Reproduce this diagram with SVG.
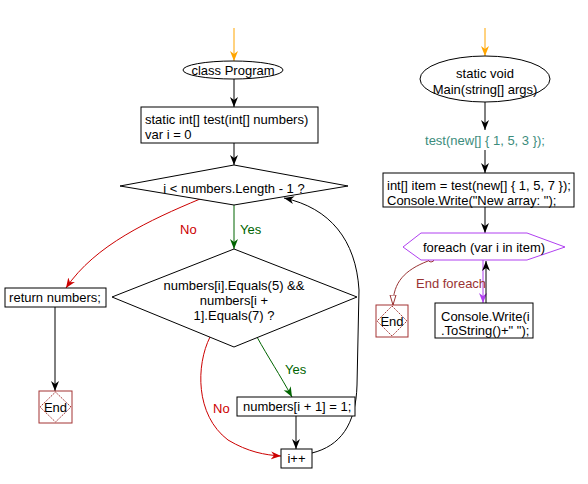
<svg xmlns="http://www.w3.org/2000/svg" width="588" height="484" viewBox="0 0 588 484">
<style>
text{font-family:"Liberation Sans",Arial,sans-serif;font-size:13px;fill:#000}
.c{text-anchor:middle}
.box{fill:#fff;stroke:#000;stroke-width:1}
.ln{fill:none;stroke:#000;stroke-width:1}
.red{fill:none;stroke:#cc0000;stroke-width:1}
.grn{fill:none;stroke:#006400;stroke-width:1}
.org{fill:none;stroke:#ffa500;stroke-width:1}
.pur{fill:none;stroke:#b040f0;stroke-width:1}
.brn{fill:none;stroke:#993333;stroke-width:1}
.endb{fill:#fff;stroke:#a33333;stroke-width:1}
</style>
<defs>
<marker id="ab" markerUnits="userSpaceOnUse" markerWidth="12" markerHeight="12" refX="10" refY="5" orient="auto"><path d="M0,1 L10,5 L0,9 L3,5 Z" fill="#000"/></marker>
<marker id="ar" markerUnits="userSpaceOnUse" markerWidth="12" markerHeight="12" refX="10" refY="5" orient="auto"><path d="M0,1 L10,5 L0,9 L3,5 Z" fill="#cc0000"/></marker>
<marker id="ag" markerUnits="userSpaceOnUse" markerWidth="12" markerHeight="12" refX="10" refY="5" orient="auto"><path d="M0,1 L10,5 L0,9 L3,5 Z" fill="#006400"/></marker>
<marker id="ao" markerUnits="userSpaceOnUse" markerWidth="12" markerHeight="12" refX="10" refY="5" orient="auto"><path d="M0,1 L10,5 L0,9 L3,5 Z" fill="#ffa500"/></marker>
<marker id="ap" markerUnits="userSpaceOnUse" markerWidth="12" markerHeight="12" refX="10" refY="5" orient="auto"><path d="M0,1 L10,5 L0,9 L3,5 Z" fill="#b040f0"/></marker>
<marker id="ah" markerUnits="userSpaceOnUse" markerWidth="12" markerHeight="12" refX="10" refY="5" orient="auto"><path d="M0,2 L10,5 L0,8 Z" fill="#fff" stroke="#993333"/></marker>
<clipPath id="clipAssign"><rect x="237" y="397" width="118" height="19"/></clipPath>
</defs>

<g id="connectors">
<line class="org" x1="234" y1="28" x2="234" y2="61" marker-end="url(#ao)"/>
<line class="ln" x1="234" y1="79" x2="234" y2="107" marker-end="url(#ab)"/>
<line class="ln" x1="234" y1="143" x2="234" y2="165" marker-end="url(#ab)"/>
<line class="grn" x1="234" y1="205" x2="234" y2="249" marker-end="url(#ag)"/>
<path class="red" d="M200,199 C150,220 95,245 66,288" marker-end="url(#ar)"/>
<line class="ln" x1="55" y1="307" x2="55" y2="391" marker-end="url(#ab)"/>
<path class="grn" d="M257,337 C268,357 280,375 292,397" marker-end="url(#ag)"/>
<path class="red" d="M210,337 C196,365 195,415 228,440 C248,452 265,455 281,456" marker-end="url(#ar)"/>
<line class="ln" x1="296" y1="416" x2="296" y2="449" marker-end="url(#ab)"/>
<path class="ln" d="M312,453 C340,446 356,425 357,385 L359,290 C356,240 330,208 284,198" marker-end="url(#ab)"/>
<line class="org" x1="485" y1="28" x2="485" y2="56" marker-end="url(#ao)"/>
<line class="ln" x1="485" y1="102" x2="485" y2="130" marker-end="url(#ab)"/>
<line class="ln" x1="485" y1="150" x2="485" y2="173" marker-end="url(#ab)"/>
<line class="ln" x1="485" y1="207" x2="485" y2="233" marker-end="url(#ab)"/>
<line class="pur" x1="483" y1="260" x2="483" y2="303" marker-end="url(#ap)"/>
<line class="ln" x1="486" y1="303" x2="486" y2="261" marker-end="url(#ab)"/>
<circle cx="431" cy="259" r="3" fill="#fff" stroke="#993333"/>
<path class="brn" d="M428,261 C405,270 393,282 393,305" marker-end="url(#ah)"/>
<text x="240" y="234" style="fill:#006400">Yes</text>
<text x="180" y="234" style="fill:#cc0000">No</text>
<text x="285" y="374" style="fill:#006400">Yes</text>
<text x="213" y="413" style="fill:#cc0000">No</text>
<text x="416" y="288" style="fill:#993333">End foreach</text>
</g>

<g id="classProgram">
<ellipse cx="233" cy="70" rx="50" ry="9" class="box"/>
<text x="233" y="75" class="c">class Program</text>
</g>
<g id="testFunc">
<rect x="141" y="107" width="177" height="36" class="box"/>
<text x="145" y="124">static int[] test(int[] numbers)</text>
<text x="145" y="139">var i = 0</text>
</g>
<g id="loopCond">
<polygon points="234,165 348,186 234,205 120,186" class="box"/>
<text x="234" y="193" class="c">i &lt; numbers.Length - 1 ?</text>
</g>
<g id="ifCond">
<polygon points="234,249 357,297 234,347 112,297" class="box"/>
<text x="234" y="290" class="c">numbers[i].Equals(5) &amp;&amp;</text>
<text x="234" y="305" class="c">numbers[i +</text>
<text x="234" y="320" class="c">1].Equals(7) ?</text>
</g>
<g id="returnNumbers">
<rect x="5" y="288" width="101" height="19" class="box"/>
<text x="55" y="302" class="c">return numbers;</text>
</g>
<g id="end1">
<rect x="39" y="391" width="33" height="32" class="endb"/>
<polygon points="55.5,392 71,407 55.5,422 40,407" fill="none" stroke="#a33333" stroke-dasharray="1.5,1"/>
<text x="55.5" y="412" class="c">End</text>
</g>
<g id="assign">
<rect x="237" y="397" width="118" height="19" class="box"/>
<text x="243" y="411" clip-path="url(#clipAssign)">numbers[i + 1] = 1;</text>
</g>
<g id="inc">
<rect x="281" y="449" width="31" height="19" class="box"/>
<text x="296.5" y="463" class="c">i++</text>
</g>

<g id="mainFunc">
<ellipse cx="485" cy="79" rx="65" ry="23" class="box"/>
<text x="485" y="78" class="c">static void</text>
<text x="485" y="94" class="c">Main(string[] args)</text>
</g>
<g id="call1">
<text x="485" y="145" class="c" style="fill:#3c8c7c">test(new[] { 1, 5, 3 });</text>
</g>
<g id="itemAssign">
<rect x="383" y="173" width="191" height="34" class="box"/>
<text x="387" y="190">int[] item = test(new[] { 1, 5, 7 });</text>
<text x="387" y="205">Console.Write("New array: ");</text>
</g>
<g id="foreach">
<polygon points="403,247 421,233 527,233 565,247 527,260 421,260" fill="#fff" stroke="#b040f0"/>
<text x="484" y="252" class="c">foreach (var i in item)</text>
</g>
<g id="write">
<rect x="435" y="303" width="98" height="35" class="box"/>
<text x="441" y="321">Console.Write(i</text>
<text x="441" y="335">.ToString()+" ");</text>
</g>
<g id="end2">
<rect x="376" y="305" width="32" height="32" class="endb"/>
<polygon points="392,306 407,321 392,336 377,321" fill="none" stroke="#a33333" stroke-dasharray="1.5,1"/>
<text x="392" y="326" class="c">End</text>
</g>
</svg>
